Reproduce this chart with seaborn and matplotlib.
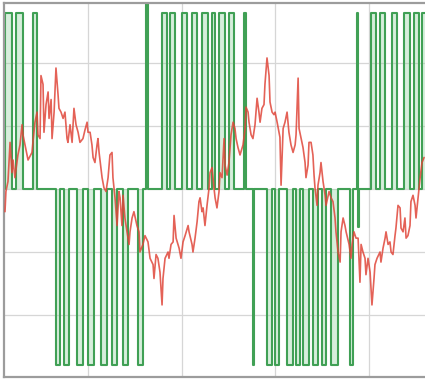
import numpy as np
import pandas as pd
import matplotlib
matplotlib.use("Agg")
import matplotlib.pyplot as plt
import seaborn as sns

# Measured phase current (per-unit) versus time in ms
current_t = [0.57, 0.62, 0.73, 0.84, 0.94, 1.00, 1.10, 1.26, 1.37, 1.48, 1.53, 1.64, 1.80, 2.01, 2.06,
             2.17, 2.28, 2.33, 2.44, 2.49, 2.60, 2.65, 2.76, 2.87, 2.92, 3.03, 3.08, 3.19, 3.29, 3.40,
             3.45, 3.56, 3.67, 3.77, 3.88, 3.93, 4.04, 4.15, 4.25, 4.36, 4.47, 4.57, 4.73, 4.84, 4.95,
             5.00, 5.11, 5.21, 5.27, 5.37, 5.48, 5.53, 5.59, 5.75, 5.85, 5.96, 6.07, 6.17, 6.28, 6.33,
             6.44, 6.55, 6.65, 6.71, 6.81, 6.87, 6.97, 7.08, 7.19, 7.24, 7.35, 7.45, 7.61, 7.72, 7.77,
             7.93, 8.04, 8.20, 8.31, 8.47, 8.52, 8.63, 8.73, 8.84, 8.95, 9.00, 9.11, 9.27, 9.32, 9.43,
             9.54, 9.59, 9.70, 9.80, 9.86, 9.96, 10.07, 10.18, 10.34, 10.39, 10.55, 10.60, 10.71, 10.82,
             10.92, 10.98, 11.08, 11.14, 11.24, 11.35, 11.46, 11.51, 11.62, 11.72, 11.78, 11.88, 11.99,
             12.04, 12.15, 12.26, 12.31, 12.42, 12.52, 12.63, 12.74, 12.84, 12.90, 13.00, 13.11, 13.27,
             13.38, 13.43, 13.54, 13.59, 13.70, 13.80, 13.91, 14.02, 14.12, 14.18, 14.28, 14.39, 14.44,
             14.55, 14.66, 14.71, 14.82, 14.92, 14.98, 15.09, 15.19, 15.24, 15.30, 15.41, 15.51, 15.62,
             15.72, 15.83, 15.94, 16.05, 16.10, 16.21, 16.26, 16.37, 16.47, 16.58, 16.63, 16.74, 16.79,
             16.90, 17.00, 17.06, 17.11, 17.22, 17.27, 17.38, 17.43, 17.54, 17.65, 17.70, 17.86, 17.97,
             18.07, 18.18, 18.23, 18.34, 18.45, 18.50, 18.61, 18.71, 18.77, 18.93, 19.03, 19.09, 19.19,
             19.30, 19.41, 19.51, 19.57, 19.67, 19.78, 19.83, 19.94, 20.05, 20.15, 20.26, 20.31, 20.42,
             20.58, 20.63, 20.74, 20.85, 20.90, 21.01, 21.11, 21.17, 21.27, 21.38, 21.43, 21.54, 21.65,
             21.70, 21.81, 21.91, 21.97, 22.07, 22.18, 22.23, 22.34, 22.45, 22.50, 22.61, 22.72, 22.82,
             22.93]
current_v = [-0.18, -0.02, 0.06, 0.37, 0.13, 0.23, 0.09, 0.27, 0.35, 0.51, 0.43, 0.35, 0.23, 0.29, 0.37,
             0.53, 0.61, 0.43, 0.40, 0.90, 0.83, 0.45, 0.67, 0.77, 0.56, 0.71, 0.40, 0.61, 0.96, 0.75,
             0.64, 0.61, 0.56, 0.61, 0.40, 0.37, 0.51, 0.37, 0.64, 0.51, 0.45, 0.37, 0.40, 0.47, 0.53,
             0.45, 0.45, 0.35, 0.25, 0.21, 0.35, 0.40, 0.29, 0.09, 0.01, -0.02, 0.09, 0.27, 0.29, 0.09,
             -0.07, -0.29, -0.02, -0.07, -0.29, -0.05, -0.23, -0.34, -0.44, -0.34, -0.23, -0.18, -0.29, -0.34, -0.50,
             -0.44, -0.37, -0.42, -0.55, -0.60, -0.71, -0.52, -0.55, -0.66, -0.92, -0.71, -0.55, -0.50, -0.55, -0.44,
             -0.42, -0.21, -0.39, -0.44, -0.47, -0.55, -0.42, -0.37, -0.29, -0.34, -0.44, -0.50, -0.39, -0.26,
             -0.10, -0.07, -0.18, -0.15, -0.29, -0.13, 0.01, 0.13, 0.17, 0.01, -0.07, -0.15, -0.02,
             0.13, 0.09, 0.40, 0.19, 0.11, 0.21, 0.43, 0.53, 0.48, 0.40, 0.33, 0.27, 0.35,
             0.48, 0.65, 0.61, 0.53, 0.43, 0.40, 0.51, 0.72, 0.61, 0.53, 0.64, 0.67, 0.83,
             1.04, 0.90, 0.69, 0.61, 0.59, 0.61, 0.53, 0.45, 0.41, 0.03, 0.48, 0.53, 0.61,
             0.45, 0.35, 0.29, 0.35, 0.43, 0.88, 0.48, 0.40, 0.33, 0.21, 0.09, 0.19, 0.37,
             0.37, 0.27, 0.11, 0.01, -0.13, 0.03, 0.13, 0.21, 0.06, -0.05, -0.13, -0.02, -0.07,
             -0.10, -0.23, -0.34, -0.50, -0.58, -0.34, -0.23, -0.29, -0.34, -0.44, -0.55, -0.44, -0.34,
             -0.39, -0.39, -0.74, -0.44, -0.50, -0.55, -0.68, -0.55, -0.66, -0.92, -0.71, -0.60, -0.55,
             -0.50, -0.58, -0.47, -0.39, -0.34, -0.44, -0.42, -0.50, -0.52, -0.37, -0.31, -0.13, -0.15,
             -0.31, -0.34, -0.23, -0.39, -0.37, -0.29, -0.10, -0.05, -0.13, -0.23, -0.07, 0.09, 0.21,
             0.25]

# Inverter output voltage pulses: start time, end time (ms) and level (per-unit)
pulse_start = [0.57, 1.16, 2.07,
               3.29, 3.72, 4.41, 5.00, 5.69, 6.28, 6.87, 7.67,
               8.12, 8.95, 9.38, 10.02, 10.55, 11.08, 11.62, 11.99, 12.52, 13.32,
               13.80, 14.55, 14.98, 15.62, 16.10, 16.47, 17.01, 17.49, 17.97, 18.98,
               19.33, 19.41,
               20.10, 20.58, 21.22, 21.86, 22.40, 22.82]
pulse_end = [0.94, 1.53, 2.28,
             3.51, 3.99, 4.73, 5.32, 6.01, 6.55, 7.13, 7.93,
             8.20, 9.22, 9.64, 10.28, 10.82, 11.40, 11.78, 12.31, 12.79, 13.43,
             13.88, 14.82, 15.19, 15.94, 16.31, 16.79, 17.27, 17.70, 18.34, 19.14,
             19.38, 19.46,
             20.37, 20.85, 21.49, 22.18, 22.66, 23.04]
pulse_level = [1.4, 1.4, 1.4,
               -1.4, -1.4, -1.4, -1.4, -1.4, -1.4, -1.4, -1.4,
               1.5, 1.4, 1.4, 1.4, 1.4, 1.4, 1.4, 1.4, 1.4, 1.4,
               -1.4, -1.4, -1.4, -1.4, -1.4, -1.4, -1.4, -1.4, -1.4, -1.4,
               1.4, -0.3,
               1.4, 1.4, 1.4, 1.4, 1.4, 1.4]

# Assemble the three-level switching waveform as an ordered vertex list
wave_t, wave_v = [0.3], [0.0]
for s, e, lv in zip(pulse_start, pulse_end, pulse_level):
    wave_t += [s, s, e, e]
    wave_v += [0.0, lv, lv, 0.0]
wave = pd.DataFrame({"t": wave_t, "v": wave_v})
current = pd.DataFrame({"t": current_t, "v": current_v})

sns.set_theme(style="white")

fig = plt.figure(figsize=(4.25, 3.85), dpi=100)
ax = fig.add_axes([4 / 425, 8 / 385, 421 / 425, 374 / 385])

# Light shading inside each voltage pulse
for s, e, lv in zip(pulse_start, pulse_end, pulse_level):
    ax.fill_between([s, e], [0, 0], [lv, lv], color="#8fd19c", alpha=0.35, linewidth=0, zorder=1)

sns.lineplot(data=wave, x="t", y="v", sort=False, estimator=None, ax=ax,
             color="#40a055", linewidth=1.5, zorder=2)
sns.lineplot(data=current, x="t", y="v", sort=False, estimator=None, ax=ax,
             color="#e0463a", linewidth=1.2, alpha=0.85, zorder=3)

ax.set_xlim(0.517, 22.98)
ax.set_ylim(-1.492, 1.476)
ax.set_xticks([5, 10, 15, 20])
ax.set_yticks([-1.0, -0.5, 0.0, 0.5, 1.0])
ax.grid(True, color="#d6d6d6", linewidth=0.9)
ax.set_axisbelow(True)
ax.tick_params(length=0, labelbottom=False, labelleft=False)
ax.set_xlabel("")
ax.set_ylabel("")
for side in ("left", "top", "bottom"):
    ax.spines[side].set_color("#9c9c9c")
    ax.spines[side].set_linewidth(1.6)
ax.spines["right"].set_visible(False)

fig.savefig("out.png", dpi=100)
